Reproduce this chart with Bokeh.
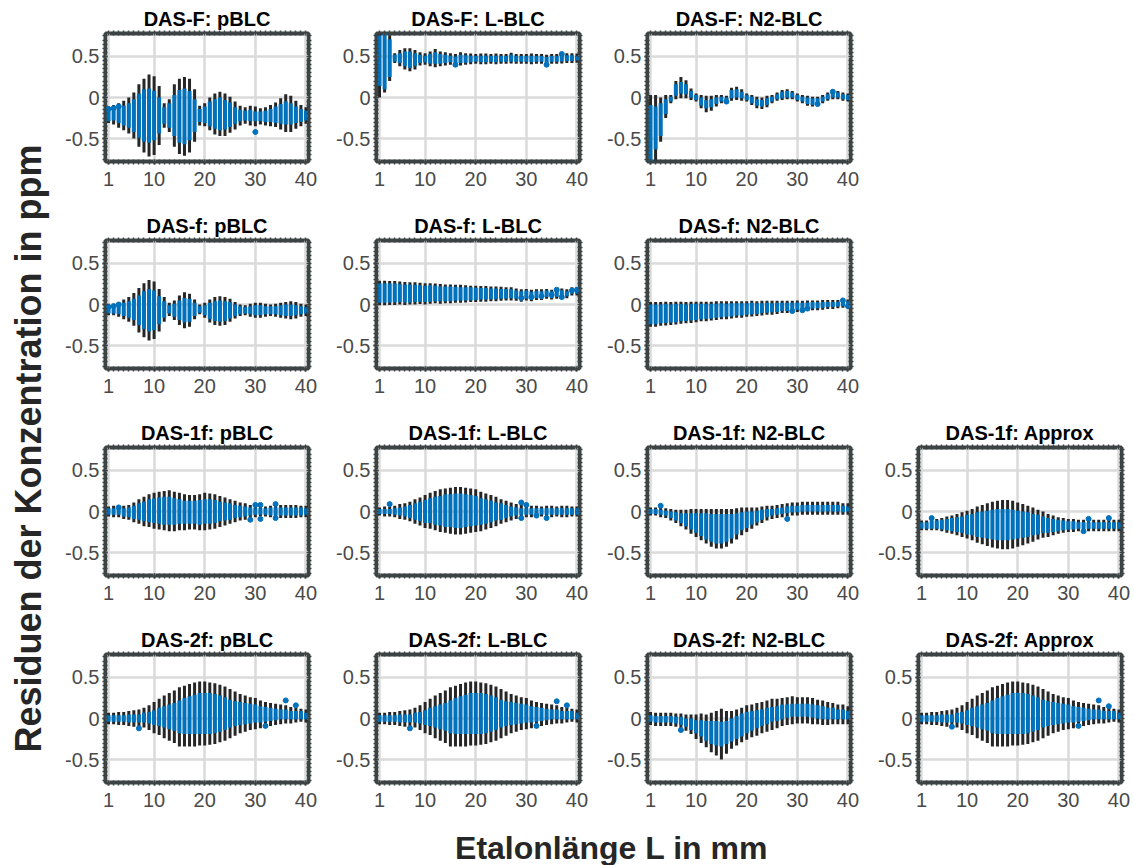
import numpy as np
from bokeh.plotting import figure
from bokeh.layouts import column, row
from bokeh.models import FixedTicker, LinearAxis, Range1d, Label
from bokeh.embed import file_html
from bokeh.resources import INLINE

# ---------------- data ----------------
x_mm = list(range(1, 41))
x_ticks = [1, 10, 20, 30, 40]
y_ticks = [-0.5, 0, 0.5]
x_label = "Etalonlänge L in mm"
y_label = "Residuen der Konzentration in ppm"

# DAS-F: pBLC
F_p_c = [-0.21,-0.21,-0.22,-0.22,-0.22,-0.22,-0.22,-0.22,-0.22,-0.22,-0.22,-0.22,-0.22,-0.22,-0.23,-0.23,-0.22,-0.22,-0.22,-0.21,-0.2,-0.2,-0.2,-0.21,-0.21,-0.22,-0.22,-0.22,-0.22,-0.23,-0.23,-0.23,-0.22,-0.21,-0.2,-0.19,-0.2,-0.21,-0.22,-0.22]
F_p_b = [0.08,0.07,0.09,0.12,0.15,0.2,0.27,0.32,0.33,0.3,0.22,0.1,0.15,0.25,0.32,0.34,0.3,0.2,0.08,0.1,0.15,0.18,0.2,0.18,0.15,0.1,0.07,0.06,0.07,0.06,0.06,0.07,0.08,0.1,0.12,0.14,0.13,0.1,0.08,0.06]
F_p_k = [0.1,0.12,0.15,0.18,0.22,0.28,0.38,0.45,0.5,0.48,0.36,0.15,0.2,0.38,0.46,0.48,0.45,0.32,0.12,0.14,0.2,0.25,0.27,0.26,0.22,0.17,0.12,0.1,0.12,0.12,0.1,0.11,0.13,0.15,0.19,0.23,0.22,0.17,0.13,0.1]
F_p_ox = [1, 2, 3, 30]
F_p_oy = [-0.14, -0.13, -0.11, -0.42]

# DAS-F: L-BLC
F_L_c = [0.45,0.45,0.48,0.48,0.48,0.47,0.46,0.46,0.47,0.47,0.47,0.48,0.47,0.47,0.47,0.46,0.47,0.47,0.47,0.47,0.47,0.47,0.47,0.47,0.47,0.47,0.48,0.47,0.47,0.47,0.47,0.47,0.47,0.46,0.47,0.47,0.48,0.48,0.48,0.48]
F_L_b = [0.31,0.35,0.23,0.04,0.06,0.09,0.1,0.08,0.05,0.04,0.06,0.07,0.06,0.05,0.04,0.04,0.05,0.045,0.04,0.035,0.04,0.04,0.035,0.04,0.035,0.035,0.04,0.035,0.035,0.035,0.04,0.035,0.035,0.035,0.035,0.035,0.04,0.035,0.035,0.03]
F_L_k = [0.45,0.39,0.28,0.06,0.1,0.13,0.14,0.12,0.08,0.07,0.09,0.11,0.09,0.08,0.07,0.07,0.08,0.07,0.065,0.06,0.065,0.065,0.06,0.065,0.06,0.06,0.065,0.06,0.06,0.06,0.065,0.06,0.06,0.06,0.06,0.06,0.065,0.06,0.06,0.055]
F_L_ox = [16, 34, 37]
F_L_oy = [0.4, 0.4, 0.53]

# DAS-F: N2-BLC
F_N_c = [-0.45,-0.37,-0.27,-0.11,-0.02,0.09,0.12,0.1,0.04,0.0,-0.05,-0.08,-0.07,-0.04,-0.02,-0.03,0.04,0.05,0.03,0.0,-0.03,-0.06,-0.07,-0.05,-0.02,0.01,0.03,0.04,0.03,0.0,-0.02,-0.04,-0.05,-0.04,-0.02,0.01,0.04,0.03,0.01,0.0]
F_N_b = [0.36,0.26,0.2,0.09,0.03,0.07,0.07,0.06,0.04,0.03,0.05,0.05,0.05,0.04,0.03,0.03,0.05,0.05,0.04,0.03,0.04,0.04,0.04,0.04,0.03,0.03,0.04,0.04,0.03,0.03,0.03,0.04,0.04,0.03,0.03,0.03,0.04,0.03,0.03,0.03]
F_N_k = [0.48,0.4,0.27,0.14,0.05,0.11,0.13,0.11,0.07,0.05,0.08,0.1,0.09,0.07,0.05,0.05,0.08,0.08,0.07,0.05,0.06,0.07,0.07,0.07,0.05,0.05,0.06,0.06,0.05,0.05,0.05,0.06,0.06,0.05,0.05,0.05,0.06,0.05,0.05,0.05]
F_N_ox = [16, 34, 37]
F_N_oy = [-0.05, -0.08, 0.07]

# DAS-f: pBLC
f_p_c = [-0.06,-0.06,-0.06,-0.06,-0.06,-0.06,-0.07,-0.07,-0.07,-0.07,-0.07,-0.06,-0.06,-0.07,-0.07,-0.07,-0.07,-0.06,-0.06,-0.07,-0.08,-0.08,-0.08,-0.08,-0.07,-0.07,-0.07,-0.07,-0.07,-0.07,-0.07,-0.07,-0.07,-0.07,-0.07,-0.07,-0.07,-0.07,-0.07,-0.07]
f_p_b = [0.05,0.05,0.06,0.08,0.1,0.13,0.18,0.23,0.26,0.24,0.17,0.1,0.05,0.08,0.12,0.15,0.14,0.08,0.04,0.06,0.1,0.12,0.13,0.12,0.1,0.07,0.05,0.04,0.05,0.06,0.06,0.05,0.05,0.05,0.06,0.07,0.07,0.06,0.05,0.04]
f_p_k = [0.07,0.07,0.09,0.12,0.15,0.2,0.27,0.33,0.37,0.35,0.26,0.15,0.08,0.12,0.18,0.22,0.2,0.12,0.06,0.09,0.14,0.17,0.18,0.17,0.14,0.1,0.07,0.06,0.08,0.09,0.09,0.08,0.07,0.08,0.09,0.1,0.11,0.1,0.08,0.07]
f_p_ox = [1, 2, 3]
f_p_oy = [-0.03, -0.02, 0.0]

# DAS-f: L-BLC
f_L_c = [0.14,0.14,0.14,0.14,0.14,0.135,0.135,0.135,0.135,0.13,0.135,0.135,0.13,0.13,0.13,0.13,0.13,0.13,0.13,0.13,0.13,0.13,0.13,0.13,0.13,0.13,0.13,0.12,0.11,0.12,0.11,0.12,0.12,0.13,0.12,0.13,0.14,0.13,0.16,0.16]
f_L_b = [0.12,0.12,0.115,0.115,0.11,0.11,0.11,0.105,0.1,0.1,0.1,0.095,0.09,0.09,0.09,0.085,0.08,0.08,0.08,0.075,0.07,0.07,0.065,0.065,0.06,0.06,0.055,0.05,0.05,0.05,0.045,0.045,0.04,0.04,0.04,0.035,0.035,0.03,0.03,0.03]
f_L_k = [0.15,0.15,0.145,0.145,0.14,0.14,0.135,0.135,0.13,0.13,0.125,0.12,0.12,0.115,0.115,0.11,0.11,0.105,0.1,0.1,0.095,0.095,0.09,0.09,0.085,0.08,0.08,0.075,0.075,0.07,0.07,0.065,0.065,0.06,0.06,0.06,0.055,0.055,0.05,0.05]
f_L_ox = [29, 31, 33, 35, 36, 37, 39, 40]
f_L_oy = [0.08, 0.09, 0.1, 0.12, 0.18, 0.09, 0.17, 0.18]

# DAS-f: N2-BLC
f_N_c = [-0.12,-0.12,-0.115,-0.11,-0.11,-0.105,-0.1,-0.1,-0.095,-0.09,-0.085,-0.085,-0.08,-0.075,-0.07,-0.07,-0.065,-0.06,-0.06,-0.055,-0.05,-0.05,-0.045,-0.04,-0.04,-0.035,-0.03,-0.03,-0.025,-0.02,-0.02,-0.015,-0.01,-0.01,-0.005,0.0,0.0,0.005,0.01,0.01]
f_N_b = [0.12,0.12,0.115,0.115,0.11,0.11,0.105,0.1,0.1,0.1,0.095,0.09,0.09,0.085,0.085,0.08,0.08,0.075,0.075,0.07,0.07,0.065,0.06,0.06,0.055,0.055,0.05,0.05,0.045,0.045,0.04,0.04,0.04,0.035,0.035,0.03,0.03,0.03,0.03,0.03]
f_N_k = [0.15,0.15,0.145,0.145,0.14,0.14,0.135,0.13,0.13,0.125,0.12,0.12,0.115,0.115,0.11,0.11,0.105,0.1,0.1,0.095,0.095,0.09,0.09,0.085,0.085,0.08,0.075,0.075,0.07,0.07,0.065,0.065,0.06,0.06,0.06,0.055,0.055,0.05,0.05,0.05]
f_N_ox = [29, 31, 32, 39, 40]
f_N_oy = [-0.08, -0.07, -0.05, 0.05, -0.02]

# DAS-1f: pBLC
p1_p_c = [0.0,0.0,0.0,-0.01,-0.01,-0.01,0.0,0.0,0.01,0.01,0.01,0.01,0.01,0.0,0.0,-0.01,-0.01,-0.01,-0.01,0.0,0.0,0.0,0.0,0.0,0.0,0.0,0.0,0.0,0.0,0.0,0.0,0.0,0.0,0.0,0.0,0.0,0.0,0.0,0.0,0.0]
p1_p_b = [0.04,0.04,0.04,0.05,0.06,0.08,0.1,0.12,0.14,0.15,0.16,0.17,0.17,0.16,0.15,0.14,0.14,0.14,0.15,0.15,0.15,0.14,0.12,0.11,0.1,0.08,0.07,0.06,0.05,0.04,0.04,0.04,0.05,0.05,0.05,0.05,0.05,0.05,0.05,0.04]
p1_p_k = [0.06,0.07,0.07,0.08,0.09,0.12,0.15,0.18,0.2,0.22,0.23,0.24,0.25,0.24,0.23,0.22,0.21,0.21,0.22,0.23,0.22,0.21,0.19,0.17,0.15,0.13,0.11,0.1,0.08,0.07,0.06,0.06,0.07,0.08,0.08,0.08,0.08,0.08,0.07,0.07]
p1_p_ox = [3, 29, 30, 31, 31, 34, 34]
p1_p_oy = [0.05, -0.1, 0.08, 0.08, -0.09, 0.09, -0.08]

# DAS-1f: L-BLC
p1_L_c = [0.0,0.0,0.0,0.0,0.0,0.0,0.0,0.0,0.0,0.0,0.01,0.01,0.01,0.01,0.01,0.01,0.01,0.01,0.01,0.01,0.0,0.0,0.0,0.0,0.0,0.0,0.0,0.0,0.0,0.0,0.0,0.0,0.0,0.0,0.0,0.0,0.0,0.0,0.0,0.0]
p1_L_b = [0.03,0.03,0.03,0.04,0.05,0.06,0.08,0.1,0.12,0.14,0.15,0.17,0.18,0.2,0.2,0.21,0.21,0.2,0.19,0.18,0.16,0.15,0.13,0.11,0.1,0.08,0.06,0.05,0.04,0.04,0.04,0.04,0.04,0.04,0.04,0.04,0.04,0.04,0.04,0.04]
p1_L_k = [0.05,0.06,0.06,0.07,0.09,0.1,0.12,0.15,0.17,0.2,0.22,0.24,0.26,0.27,0.28,0.29,0.29,0.28,0.27,0.26,0.24,0.22,0.2,0.18,0.15,0.13,0.11,0.09,0.08,0.07,0.07,0.07,0.06,0.07,0.07,0.06,0.07,0.07,0.06,0.06]
p1_L_ox = [3, 29, 29, 30, 32, 34]
p1_L_oy = [0.09, 0.11, -0.08, 0.08, -0.05, -0.08]

# DAS-1f: N2-BLC
p1_N_c = [0.0,0.0,-0.01,-0.02,-0.04,-0.06,-0.08,-0.1,-0.12,-0.14,-0.16,-0.18,-0.2,-0.21,-0.21,-0.2,-0.18,-0.15,-0.12,-0.1,-0.08,-0.06,-0.04,-0.02,-0.01,0.0,0.01,0.02,0.03,0.03,0.04,0.04,0.04,0.04,0.04,0.04,0.04,0.04,0.03,0.03]
p1_N_b = [0.03,0.03,0.03,0.03,0.04,0.05,0.06,0.08,0.1,0.12,0.14,0.16,0.17,0.18,0.18,0.17,0.15,0.13,0.11,0.1,0.08,0.07,0.06,0.05,0.04,0.04,0.04,0.04,0.04,0.04,0.04,0.04,0.04,0.04,0.04,0.04,0.04,0.04,0.04,0.03]
p1_N_k = [0.05,0.05,0.06,0.06,0.07,0.08,0.1,0.12,0.15,0.17,0.19,0.21,0.23,0.24,0.24,0.23,0.21,0.19,0.17,0.15,0.13,0.11,0.1,0.09,0.08,0.08,0.08,0.08,0.08,0.08,0.08,0.08,0.08,0.08,0.08,0.08,0.08,0.08,0.07,0.07]
p1_N_ox = [3, 28]
p1_N_oy = [0.07, -0.09]

# DAS-1f: Approx
p1_A_c = [-0.17,-0.17,-0.16,-0.16,-0.16,-0.16,-0.16,-0.16,-0.16,-0.16,-0.16,-0.16,-0.16,-0.16,-0.16,-0.16,-0.16,-0.16,-0.16,-0.16,-0.16,-0.16,-0.16,-0.16,-0.16,-0.17,-0.17,-0.17,-0.17,-0.17,-0.17,-0.17,-0.17,-0.17,-0.17,-0.17,-0.17,-0.17,-0.17,-0.17]
p1_A_b = [0.04,0.04,0.05,0.05,0.06,0.07,0.08,0.09,0.1,0.12,0.13,0.15,0.16,0.17,0.18,0.19,0.19,0.19,0.18,0.17,0.16,0.15,0.13,0.12,0.1,0.09,0.08,0.07,0.06,0.05,0.05,0.04,0.04,0.04,0.04,0.04,0.04,0.04,0.04,0.04]
p1_A_k = [0.06,0.06,0.07,0.07,0.08,0.1,0.11,0.13,0.15,0.17,0.19,0.22,0.24,0.26,0.28,0.29,0.3,0.3,0.29,0.27,0.25,0.23,0.21,0.18,0.16,0.14,0.12,0.1,0.09,0.08,0.08,0.07,0.07,0.07,0.07,0.07,0.07,0.07,0.07,0.07]
p1_A_ox = [3, 33, 34, 38]
p1_A_oy = [-0.08, -0.24, -0.09, -0.08]

# DAS-2f: pBLC / L-BLC / Approx
p2_p_c = [0.0,0.0,0.0,0.0,0.0,0.0,0.0,0.01,0.01,0.01,0.02,0.02,0.02,0.02,0.02,0.03,0.04,0.05,0.06,0.06,0.06,0.06,0.06,0.06,0.06,0.06,0.06,0.06,0.06,0.06,0.05,0.05,0.05,0.05,0.05,0.05,0.04,0.04,0.04,0.03]
p2_p_b = [0.04,0.04,0.04,0.04,0.05,0.05,0.05,0.06,0.07,0.09,0.11,0.13,0.15,0.17,0.2,0.22,0.23,0.24,0.25,0.25,0.25,0.24,0.22,0.2,0.17,0.15,0.14,0.13,0.12,0.11,0.1,0.09,0.08,0.07,0.06,0.06,0.05,0.05,0.05,0.04]
p2_p_k = [0.07,0.07,0.08,0.08,0.09,0.1,0.11,0.12,0.15,0.19,0.22,0.26,0.29,0.32,0.36,0.37,0.38,0.39,0.39,0.39,0.38,0.37,0.35,0.33,0.3,0.27,0.24,0.22,0.2,0.19,0.17,0.15,0.14,0.13,0.12,0.11,0.1,0.09,0.08,0.08]
p2_p_ox = [7, 32, 36, 38]
p2_p_oy = [-0.12, -0.09, 0.22, 0.16]
p2_L_ox = [7, 32, 36, 38]
p2_L_oy = [-0.12, -0.09, 0.21, 0.16]
p2_A_ox = [7, 32, 36, 38]
p2_A_oy = [-0.1, -0.09, 0.22, 0.15]

# DAS-2f: N2-BLC
p2_N_c = [0.0,-0.01,-0.01,-0.01,-0.01,-0.02,-0.03,-0.05,-0.07,-0.1,-0.12,-0.15,-0.17,-0.18,-0.19,-0.17,-0.14,-0.11,-0.08,-0.05,-0.03,-0.01,0.01,0.03,0.05,0.06,0.08,0.09,0.1,0.1,0.1,0.1,0.09,0.08,0.07,0.06,0.06,0.05,0.05,0.04]
p2_N_b = [0.04,0.04,0.04,0.04,0.04,0.04,0.05,0.05,0.07,0.08,0.1,0.12,0.14,0.15,0.15,0.14,0.14,0.14,0.14,0.13,0.12,0.11,0.1,0.1,0.09,0.09,0.09,0.08,0.08,0.08,0.08,0.08,0.08,0.08,0.08,0.07,0.07,0.06,0.06,0.05]
p2_N_k = [0.08,0.08,0.08,0.08,0.08,0.08,0.09,0.1,0.12,0.15,0.18,0.2,0.24,0.27,0.31,0.26,0.23,0.22,0.21,0.21,0.2,0.2,0.19,0.19,0.19,0.18,0.17,0.17,0.17,0.16,0.16,0.16,0.16,0.15,0.15,0.14,0.13,0.12,0.12,0.11]
p2_N_ox = [7]
p2_N_oy = [-0.14]

panels = [
    [("DAS-F: pBLC", F_p_c, F_p_b, F_p_k, F_p_ox, F_p_oy),
     ("DAS-F: L-BLC", F_L_c, F_L_b, F_L_k, F_L_ox, F_L_oy),
     ("DAS-F: N2-BLC", F_N_c, F_N_b, F_N_k, F_N_ox, F_N_oy)],
    [("DAS-f: pBLC", f_p_c, f_p_b, f_p_k, f_p_ox, f_p_oy),
     ("DAS-f: L-BLC", f_L_c, f_L_b, f_L_k, f_L_ox, f_L_oy),
     ("DAS-f: N2-BLC", f_N_c, f_N_b, f_N_k, f_N_ox, f_N_oy)],
    [("DAS-1f: pBLC", p1_p_c, p1_p_b, p1_p_k, p1_p_ox, p1_p_oy),
     ("DAS-1f: L-BLC", p1_L_c, p1_L_b, p1_L_k, p1_L_ox, p1_L_oy),
     ("DAS-1f: N2-BLC", p1_N_c, p1_N_b, p1_N_k, p1_N_ox, p1_N_oy),
     ("DAS-1f: Approx", p1_A_c, p1_A_b, p1_A_k, p1_A_ox, p1_A_oy)],
    [("DAS-2f: pBLC", p2_p_c, p2_p_b, p2_p_k, p2_p_ox, p2_p_oy),
     ("DAS-2f: L-BLC", p2_p_c, p2_p_b, p2_p_k, p2_L_ox, p2_L_oy),
     ("DAS-2f: N2-BLC", p2_N_c, p2_N_b, p2_N_k, p2_N_ox, p2_N_oy),
     ("DAS-2f: Approx", p2_p_c, p2_p_b, p2_p_k, p2_A_ox, p2_A_oy)],
]

# ---------------- style ----------------
FONT = "Liberation Sans"
FRAME_C = "#3d4343"
BLUE = "#0072BD"
BLACK = "#262626"
GRID_C = "#dadada"
TICK_C = "#4a4a4a"

FW, FH = 203, 128
ML, MR, MT, MB = 55, 13, 33, 46


def style_axis(ax, major, minor, labels, standoff=3):
    ax.ticker = FixedTicker(ticks=major if labels else [], minor_ticks=minor)
    ax.axis_line_color = None
    ax.major_tick_line_color = FRAME_C
    ax.major_tick_line_width = 2
    ax.major_tick_in = 2
    ax.major_tick_out = 3
    ax.minor_tick_line_color = FRAME_C
    ax.minor_tick_line_width = 1.5
    ax.minor_tick_in = 2
    ax.minor_tick_out = 3
    ax.major_label_text_font = FONT
    ax.major_label_text_font_size = "20px"
    ax.major_label_text_color = TICK_C
    ax.major_label_standoff = standoff


x_minor = list(range(1, 41))
y_minor = [round(v, 2) for v in np.arange(-0.75, 0.7501, 0.05)]


def panel(title, c, b, k, ox, oy):
    p = figure(frame_width=FW, frame_height=FH,
               x_range=Range1d(0.4, 40.5), y_range=Range1d(-0.78, 0.78),
               min_border_left=ML, min_border_right=MR,
               min_border_top=MT, min_border_bottom=MB,
               output_backend="svg", toolbar_location=None,
               background_fill_color="white", border_fill_color="white",
               title=title)
    p.title.align = "center"
    p.title.text_font = FONT
    p.title.text_font_size = "20px"
    p.title.text_font_style = "bold"
    p.title.text_color = "black"
    p.title.standoff = 1
    p.outline_line_color = FRAME_C
    p.outline_line_width = 4
    p.xgrid.ticker = FixedTicker(ticks=x_ticks)
    p.ygrid.ticker = FixedTicker(ticks=y_ticks)
    p.grid.grid_line_color = GRID_C
    p.grid.grid_line_width = 2.5
    style_axis(p.xaxis[0], x_ticks, x_minor, True, standoff=7)
    style_axis(p.yaxis[0], y_ticks, y_minor, True, standoff=3)
    p.yaxis[0].major_label_overrides = {-0.5: "-0.5", 0: "0", 0.5: "0.5"}
    ax_r = LinearAxis()
    style_axis(ax_r, y_ticks, y_minor, False)
    p.add_layout(ax_r, "right")
    ax_t = LinearAxis()
    style_axis(ax_t, x_ticks, x_minor, False)
    p.add_layout(ax_t, "above")

    c = np.array(c); b = np.array(b); k = np.array(k)
    xs = np.array(x_mm)
    p.segment(x0=xs, y0=c - k, x1=xs, y1=c + k, line_color=BLACK, line_width=3)
    p.segment(x0=xs, y0=c - b, x1=xs, y1=c + b, line_color=BLUE, line_width=4)
    p.scatter(ox, oy, size=5, color=BLUE)
    return p


rows = []
for r in panels:
    rows.append(row(*[panel(*spec) for spec in r], spacing=0))
grid = column(*rows, spacing=0)

GRID_H = 4 * 207
LEFT_W = 50

ylab = figure(width=LEFT_W, height=GRID_H, x_range=Range1d(0, LEFT_W), y_range=Range1d(0, GRID_H),
              min_border=0, x_axis_type=None, y_axis_type=None,
              output_backend="svg", toolbar_location=None, outline_line_color=None)
ylab.grid.visible = False
ylab.add_layout(Label(x=28, y=GRID_H - 448, text=y_label, angle=np.pi / 2,
                      text_align="center", text_baseline="middle",
                      text_font=FONT, text_font_size="36px", text_font_style="bold",
                      text_color="#262626"))

XH = 865 - GRID_H
xlab = figure(width=1134, height=XH, x_range=Range1d(0, 1134), y_range=Range1d(0, XH),
              min_border=0, x_axis_type=None, y_axis_type=None,
              output_backend="svg", toolbar_location=None, outline_line_color=None)
xlab.grid.visible = False
xlab.add_layout(Label(x=611, y=XH - 19, text=x_label,
                      text_align="center", text_baseline="middle",
                      text_font=FONT, text_font_size="32px", text_font_style="bold",
                      text_color="#262626"))

layout = column(row(ylab, grid, spacing=0), xlab, spacing=0)

open("out.html", "w").write(file_html(layout, INLINE))
